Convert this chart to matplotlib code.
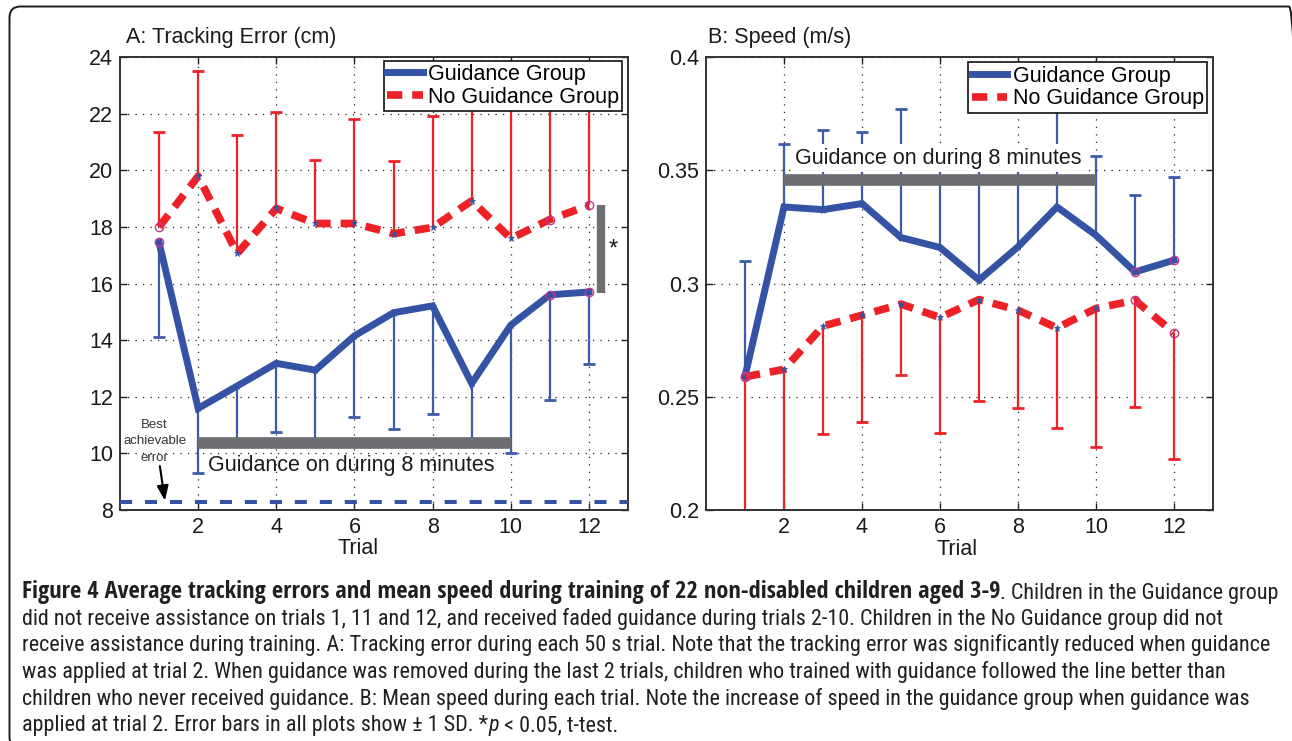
import numpy as np
import matplotlib
matplotlib.use("Agg")
import matplotlib.pyplot as plt
from matplotlib import font_manager as fm
from matplotlib.patches import FancyBboxPatch
from matplotlib.transforms import IdentityTransform

# ---------------- data ----------------
trials = np.arange(1, 13)
xticks = [2, 4, 6, 8, 10, 12]

# A: tracking error (cm), mean and SD
err_guid_mean = [17.45, 11.59, 12.38, 13.18, 12.94, 14.15, 14.97, 15.21, 12.47, 14.53, 15.60, 15.70]
err_guid_sd = [3.33, 2.29, 2.08, 2.44, 2.64, 2.88, 4.11, 3.82, 2.17, 4.51, 3.70, 2.55]
err_noguid_mean = [18.00, 19.79, 17.06, 18.65, 18.12, 18.12, 17.76, 17.98, 18.92, 17.59, 18.26, 18.76]
err_noguid_sd = [3.35, 3.70, 4.20, 3.41, 2.23, 3.68, 2.56, 3.93, 3.98, 5.61, 4.44, 3.84]
best_error = 8.3
err_yticks = [8, 10, 12, 14, 16, 18, 20, 22, 24]

# B: speed (m/s), mean and SD
spd_guid_mean = [0.259, 0.3338, 0.3326, 0.3353, 0.3203, 0.3159, 0.3015, 0.3162, 0.3338, 0.3213, 0.3051, 0.3103]
spd_guid_sd = [0.051, 0.0277, 0.035, 0.0316, 0.0569, 0.039, 0.0525, 0.0398, 0.049, 0.0349, 0.0339, 0.0367]
spd_noguid_mean = [0.2588, 0.2621, 0.2812, 0.2860, 0.2909, 0.2850, 0.2929, 0.2882, 0.2804, 0.2890, 0.2926, 0.2782]
spd_noguid_sd = [0.070, 0.067, 0.0478, 0.047, 0.0313, 0.0509, 0.0448, 0.0432, 0.0441, 0.0614, 0.047, 0.0557]
spd_yticks = [0.2, 0.25, 0.3, 0.35, 0.4]

no_assist_trials = [1, 11, 12]
guidance_span = [2, 10]

# ---------------- style ----------------
plt.rcParams["font.family"] = ["Liberation Sans", "DejaVu Sans"]
BLUE = "#3553a4"
BLUE_EB = "#3d5bab"
RED = "#ed2126"
GRAY = "#6d6e71"
MAG = "#c2388f"
TXT = "#231f20"

W, H = 1292, 741
fig = plt.figure(figsize=(W / 100, H / 100), dpi=100)


def fx(px):
    return px / W


def fy(py):
    return 1 - py / H


# outer rounded frame (pixel coordinates, origin bottom-left)
frame = FancyBboxPatch((9.5, H - 748), 1300 - 9.5, 748 - 6.5,
                       boxstyle="round,pad=0,rounding_size=11",
                       transform=IdentityTransform(), fc="none", ec="#1a1a1a",
                       lw=1.4)
fig.patches.append(frame)

axA = fig.add_axes([fx(120), fy(510), fx(508), 453 / H])
axB = fig.add_axes([fx(706), fy(510), fx(507), 453 / H])

mask_circ = np.isin(trials, no_assist_trials)


def style_axes(ax, yticks, ylim, fmt):
    ax.set_xlim(0, 13)
    ax.set_ylim(*ylim)
    ax.set_xticks(xticks)
    ax.set_yticks(yticks)
    ax.set_yticklabels([fmt(v) for v in yticks])
    ax.tick_params(direction="in", top=True, right=True, length=5, width=1,
                   labelsize=15.5, pad=5, colors="#222222", labelcolor="#1a1a1a")
    for s in ax.spines.values():
        s.set_color("#333333")
        s.set_linewidth(1.4)
    ax.grid(True, color="#222222", linestyle=(0, (1, 5)), linewidth=0.9)
    ax.set_axisbelow(True)


def one_sided(ax, x, mean, sd, sign, color):
    mean = np.asarray(mean)
    sd = np.asarray(sd)
    end = mean + sign * sd
    ax.vlines(x, mean, end, color=color, lw=1.6, zorder=2)
    ax.plot(x, end, ls="none", marker="_", ms=8, mew=2, color=color, zorder=2)


def series(ax, mean, ls, color, lw, label):
    mean = np.asarray(mean)
    ax.plot(trials, mean, ls=ls, color=color, lw=lw, label=label, zorder=3,
            solid_joinstyle="miter")
    ax.plot(trials[mask_circ], mean[mask_circ], ls="none", marker="o", ms=6,
            mfc="none", mec=MAG, mew=1, zorder=4)
    ax.plot(trials[~mask_circ], mean[~mask_circ], ls="none", marker="*", ms=5,
            color=BLUE, mew=0.6, zorder=4)


DASH = (0, (2.0, 1.3))

# ---------------- Panel A ----------------
style_axes(axA, err_yticks, (8, 24), lambda v: f"{v:g}")
one_sided(axA, trials, err_guid_mean, err_guid_sd, -1, BLUE_EB)
one_sided(axA, trials, err_noguid_mean, err_noguid_sd, +1, RED)
series(axA, err_guid_mean, "-", BLUE, 5, "Guidance Group")
series(axA, err_noguid_mean, DASH, RED, 5.5, "No Guidance Group")
axA.axhline(best_error, color=BLUE, lw=2.9, ls=(0, (3.0, 3.2)), zorder=3)

axA.plot(guidance_span, [10.38, 10.38], color=GRAY, lw=8.4,
         solid_capstyle="butt", zorder=5)
axA.text(2.26, 9.56, "Guidance on during 8 minutes", fontsize=15.5,
         ha="left", va="center", color="#1a1a1a", zorder=6)
axA.plot([12.3, 12.3], [err_guid_mean[-1] - 0.04, err_noguid_mean[-1] + 0.01],
         color=GRAY, lw=6, solid_capstyle="butt", zorder=5, clip_on=False)
axA.text(12.62, 17.2, "*", fontsize=17, ha="center", va="center", color="#1a1a1a")

for yy, s in zip([10.99, 10.42, 9.85], ["Best", "achievable", "error"]):
    axA.text(0.885, yy, s, fontsize=9.5, ha="center", va="center", color="#333333")
axA.annotate("", xy=(1.15, 8.33), xytext=(1.02, 9.55),
             arrowprops=dict(arrowstyle="-|>,head_length=0.9,head_width=0.35",
                             color="black", lw=1.5, shrinkA=0, shrinkB=0))

legA = axA.legend(loc="upper right", bbox_to_anchor=(0.989, 0.992),
                  borderaxespad=0, fontsize=15.5, handlelength=1.65,
                  handletextpad=0.25, labelspacing=0.08, borderpad=0.15,
                  fancybox=False, framealpha=1, edgecolor="#111111")
legA.get_frame().set_linewidth(1.2)
legA.set_zorder(10)

axA.text(0.012, 1.043, "A: Tracking Error (cm)", transform=axA.transAxes,
         fontsize=15.5, ha="left", va="center", color="#1a1a1a")
axA.text(0.469, -0.084, "Trial", transform=axA.transAxes, fontsize=15.5,
         ha="center", va="center", color="#1a1a1a")

# ---------------- Panel B ----------------
style_axes(axB, spd_yticks, (0.2, 0.4), lambda v: f"{v:g}")
one_sided(axB, trials, spd_guid_mean, spd_guid_sd, +1, BLUE_EB)
one_sided(axB, trials, spd_noguid_mean, spd_noguid_sd, -1, RED)
series(axB, spd_guid_mean, "-", BLUE, 5, "Guidance Group")
series(axB, spd_noguid_mean, DASH, RED, 5.5, "No Guidance Group")

axB.plot(guidance_span, [0.3458, 0.3458], color=GRAY, lw=8.4,
         solid_capstyle="butt", zorder=5)
axB.text(2.29, 0.3553, "Guidance on during 8 minutes", fontsize=15.5,
         ha="left", va="center", color="#1a1a1a", zorder=6,
         bbox=dict(fc="white", ec="none", pad=2.5))

legB = axB.legend(loc="upper right", bbox_to_anchor=(0.988, 0.988),
                  borderaxespad=0, fontsize=15.5, handlelength=1.65,
                  handletextpad=0.25, labelspacing=0.08, borderpad=0.15,
                  fancybox=False, framealpha=1, edgecolor="#111111")
legB.get_frame().set_linewidth(1.2)
legB.set_zorder(10)

axB.text(0.004, 1.043, "B: Speed (m/s)", transform=axB.transAxes,
         fontsize=15.5, ha="left", va="center", color="#1a1a1a")
axB.text(0.495, -0.088, "Trial", transform=axB.transAxes, fontsize=15.5,
         ha="center", va="center", color="#1a1a1a")

# ---------------- caption fonts ----------------
def _w(f):
    w = f.weight
    if isinstance(w, str):
        w = fm.weight_dict.get(w, 400)
    return w


def find_family(cands, lo, hi):
    for c in cands:
        for f in fm.fontManager.ttflist:
            if f.name == c and f.style == "normal" and lo <= _w(f) <= hi:
                return c, _w(f)
    return None, None


reg_fam, reg_w = find_family(["Liberation Sans Narrow", "Open Sans Condensed Light",
                              "Open Sans Condensed", "Roboto Condensed",
                              "Open Sans", "Liberation Sans"], 300, 450)
if reg_fam is None:
    reg_fam, reg_w = "DejaVu Sans", 400
bold_fam, bold_w = find_family(["Open Sans Condensed", "Liberation Sans Narrow",
                                "Open Sans Condensed Bold", reg_fam], 600, 900)
if bold_fam is None:
    bold_fam, bold_w = reg_fam, 700

cap_size = 12.5
cap_lines_y = [592, 619, 645, 672, 699, 726]
cap_x = 22
bold1 = "Figure 4 Average tracking errors and mean speed during training of 22 non-disabled children aged 3-9"
rest1 = ". Children in the Guidance group"
plain_lines = [
    "did not receive assistance on trials 1, 11 and 12, and received faded guidance during trials 2-10. Children in the No Guidance group did not",
    "receive assistance during training. A: Tracking error during each 50 s trial. Note that the tracking error was significantly reduced when guidance",
    "was applied at trial 2. When guidance was removed during the last 2 trials, children who trained with guidance followed the line better than",
    "children who never received guidance. B: Mean speed during each trial. Note the increase of speed in the guidance group when guidance was",
]
last_a = "applied at trial 2. Error bars in all plots show \u00b1 1 SD. *"
last_b = "p"
last_c = " < 0.05, t-test."

kw = dict(family=reg_fam, fontweight=reg_w, color=TXT, fontsize=cap_size)
kwb = dict(family=bold_fam, fontweight=bold_w, color=TXT, fontsize=cap_size)

plain_texts = []
t1 = fig.text(fx(cap_x), fy(cap_lines_y[0]), bold1, ha="left", va="center", **kwb)
t1b = fig.add_artist(plt.Annotation(rest1, xy=(1, 0), xycoords=t1, ha="left",
                                    va="bottom", **kw))
for yy, s in zip(cap_lines_y[1:5], plain_lines):
    plain_texts.append(fig.text(fx(cap_x), fy(yy), s, ha="left", va="center", **kw))
t6a = fig.text(fx(cap_x), fy(cap_lines_y[5]), last_a, ha="left", va="center", **kw)
t6b = fig.add_artist(plt.Annotation(last_b, xy=(1, 0), xycoords=t6a, ha="left",
                                    va="bottom", fontstyle="italic", **kw))
t6c = fig.add_artist(plt.Annotation(last_c, xy=(1, 0), xycoords=t6b, ha="left",
                                    va="bottom", **kw))
reg_cap = [t1b, t6a, t6b, t6c] + plain_texts

# fit caption widths: third line ends near x = 1275 px, whole first line near 1278 px
fig.canvas.draw()
r = fig.canvas.get_renderer()
right = plain_texts[1].get_window_extent(r).x1
scale = (1275 - cap_x) / (right - cap_x)
for t in reg_cap:
    t.set_fontsize(cap_size * scale)
fig.canvas.draw()
rest_w = t1b.get_window_extent(r).width
bold_w_now = t1.get_window_extent(r).width
t1.set_fontsize(cap_size * (1278 - cap_x - rest_w) / bold_w_now)

fig.savefig("out.png", dpi=100)
